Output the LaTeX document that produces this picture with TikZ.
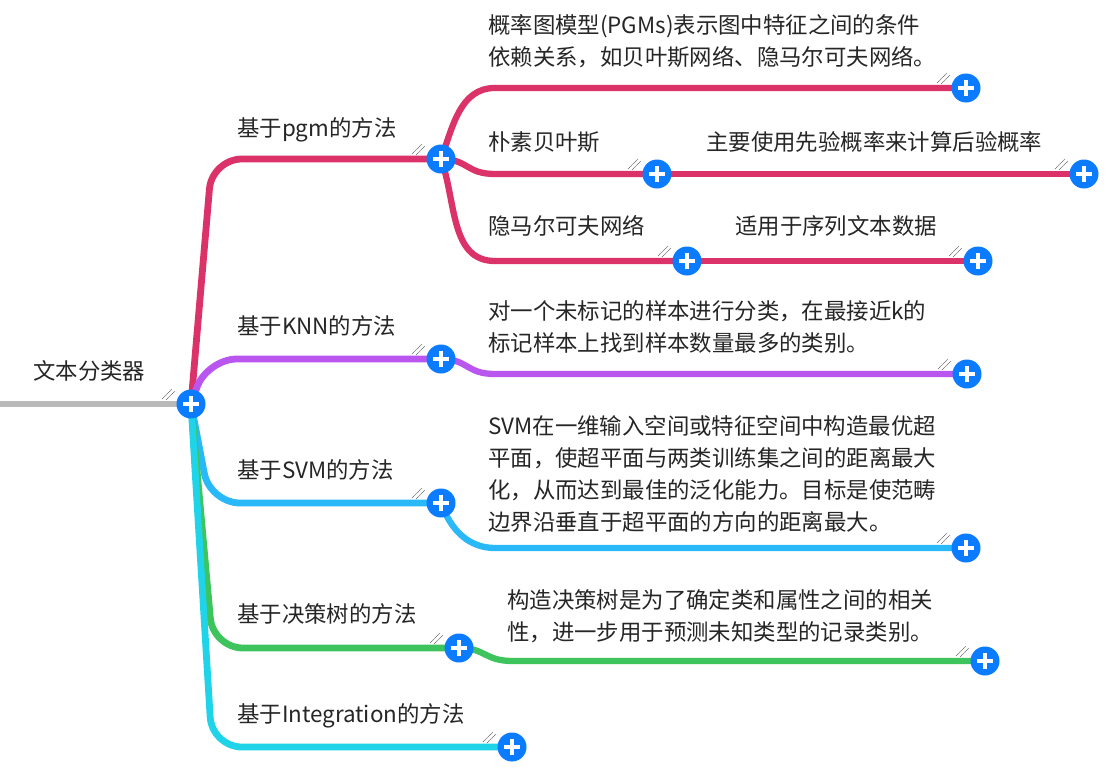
\documentclass[tikz,border=0pt]{standalone}
\usepackage{fontspec}
\setmainfont{Noto Sans CJK SC}
\usetikzlibrary{backgrounds}

\definecolor{rootgray}{HTML}{B9B9B9}
\definecolor{pgmpink}{HTML}{DB3369}
\definecolor{knnpurple}{HTML}{BA56F0}
\definecolor{svmblue}{HTML}{2AB9F8}
\definecolor{dtgreen}{HTML}{3DC45C}
\definecolor{intcyan}{HTML}{1FD4E8}
\definecolor{plusblue}{HTML}{0B7BFF}
\definecolor{txtgray}{HTML}{262626}

\begin{document}
\begin{tikzpicture}[
        x=1pt, y=-1pt,
        lbl/.style={anchor=north west, inner sep=0pt, align=left, text=txtgray, font=\fontsize{22.4}{32}\selectfont},
        plus/.style={circle, fill=plusblue, minimum size=29pt, inner sep=0pt,
            path picture={\draw[white, line width=4.5pt]
                ([xshift=-8pt]path picture bounding box.center) -- ([xshift=8pt]path picture bounding box.center)
                ([yshift=-8pt]path picture bounding box.center) -- ([yshift=8pt]path picture bounding box.center);}},
        branch/.style={line width=6.8pt, rounded corners=30pt},
        twig/.style={line width=6.3pt},
        hatch/.style={black!60, line width=0.6pt, dash pattern=on 1.2pt off 0.5pt}
    ]
    \useasboundingbox (0,0) rectangle (1115,771);

    % labels
    \node[lbl] (tRoot) at (33,360) {文本分类器};
    \node[lbl] (tPgm) at (237,117) {基于pgm的方法};
    \node[lbl] (tPgmA) at (488,14) {概率图模型(PGMs)表示图中特征之间的条件\\依赖关系，如贝叶斯网络、隐马尔可夫网络。};
    \node[lbl] (tNb) at (488,131) {朴素贝叶斯};
    \node[lbl] (tNbA) at (706,131) {主要使用先验概率来计算后验概率};
    \node[lbl] (tHmm) at (488,215) {隐马尔可夫网络};
    \node[lbl] (tHmmA) at (735,215) {适用于序列文本数据};
    \node[lbl] (tKnn) at (237,315) {基于KNN的方法};
    \node[lbl] (tKnnA) at (488,300) {对一个未标记的样本进行分类，在最接近k的\\标记样本上找到样本数量最多的类别。};
    \node[lbl] (tSvm) at (237,459) {基于SVM的方法};
    \node[lbl] (tSvmA) at (488,415) {SVM在一维输入空间或特征空间中构造最优超\\平面，使超平面与两类训练集之间的距离最大\\化，从而达到最佳的泛化能力。目标是使范畴\\边界沿垂直于超平面的方向的距离最大。};
    \node[lbl] (tDt) at (237,603) {基于决策树的方法};
    \node[lbl] (tDtA) at (507,589) {构造决策树是为了确定类和属性之间的相关\\性，进一步用于预测未知类型的记录类别。};
    \node[lbl] (tInt) at (237,703) {基于Integration的方法};

    % expand buttons
    \node[plus] (root) at (191,404) {};
    \node[plus] (pgm) at (441,159) {};
    \node[plus] (pgmA) at (966,88) {};
    \node[plus] (nb) at (657,174) {};
    \node[plus] (nbA) at (1084,174) {};
    \node[plus] (hmm) at (687,261) {};
    \node[plus] (hmmA) at (978,261) {};
    \node[plus] (knn) at (441,359) {};
    \node[plus] (knnA) at (967,374) {};
    \node[plus] (svm) at (441,503) {};
    \node[plus] (svmA) at (966,548) {};
    \node[plus] (dt) at (459,648) {};
    \node[plus] (dtA) at (985,661) {};
    \node[plus] (intg) at (512,747) {};
    \coordinate (rootin) at (0,404);

    \begin{scope}[on background layer]
    \fill[white] (0,0) rectangle (1115,771);
    \draw[line width=6.8pt, rootgray] (rootin) -- (root.center);
    % first level
    \draw[branch, pgmpink] (root.center) -- (212,159) -- (pgm.center);
    \draw[branch, knnpurple] (root.center) -- (207,359) -- (knn.center);
    \draw[branch, svmblue] (root.center) -- (210,503) -- (svm.center);
    \draw[branch, dtgreen] (root.center) -- (213,648) -- (dt.center);
    \draw[branch, intcyan] (root.center) -- (212,747) -- (intg.center);
    % second level
    \draw[twig, pgmpink] (pgm.center) to[out=70, in=180] (495,88) -- (pgmA.center);
    \draw[twig, pgmpink] (pgm.center) .. controls (468,159) and (466,174) .. (495,174) -- (nb.center);
    \draw[twig, pgmpink] (pgm.center) to[out=-70, in=180] (495,261) -- (hmm.center);
    \draw[twig, knnpurple] (knn.center) .. controls (468,359) and (466,374) .. (495,374) -- (knnA.center);
    \draw[twig, svmblue] (svm.center) to[out=-70, in=180] (495,548) -- (svmA.center);
    \draw[twig, dtgreen] (dt.center) .. controls (486,648) and (484,661) .. (513,661) -- (dtA.center);
    % third level
    \draw[twig, pgmpink] (nb.center) -- (nbA.center);
    \draw[twig, pgmpink] (hmm.center) -- (hmmA.center);
    \end{scope}

    \foreach \n in {root,pgm,pgmA,nb,nbA,hmm,hmmA,knn,knnA,svm,svmA,dt,dtA,intg}
        \draw[hatch] ([shift={(-29,-5)}]\n.center) -- ++(10,-10)
                     ([shift={(-25,-4)}]\n.center) -- ++(9,-9);
\end{tikzpicture}
\end{document}
